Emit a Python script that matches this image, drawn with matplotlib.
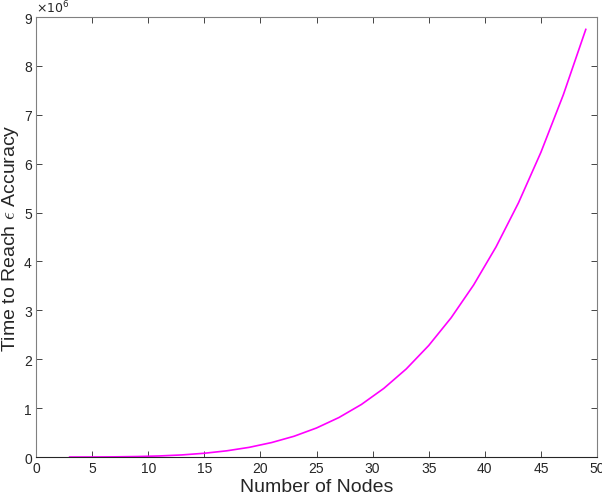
import matplotlib
matplotlib.use('Agg')
import matplotlib.pyplot as plt

# number of nodes vs. time to reach epsilon accuracy
nodes = [3, 5, 7, 9, 11, 13, 15, 17, 19, 21, 23, 25,
         27, 29, 31, 33, 35, 37, 39, 41, 43, 45, 47, 49]
time_eps = [0.0001e6, 0.001e6, 0.0036e6, 0.010e6, 0.022e6, 0.043e6,
            0.077e6, 0.127e6, 0.198e6, 0.296e6, 0.425e6, 0.594e6,
            0.808e6, 1.075e6, 1.404e6, 1.802e6, 2.281e6, 2.849e6,
            3.518e6, 4.298e6, 5.199e6, 6.233e6, 7.411e6, 8.748e6]

plt.rcParams['font.family'] = ['Liberation Sans', 'DejaVu Sans']
plt.rcParams['mathtext.fontset'] = 'cm'

fig = plt.figure(figsize=(6.02, 5.02), dpi=100)
ax = fig.add_axes([0.0598, 0.0876, 0.9319, 0.8764])

ax.plot(nodes, time_eps, color='#ff00ff', lw=1.2)

ax.set_xlim(0, 50)
ax.set_ylim(0, 9e6)
ax.set_xticks(range(0, 51, 5))
ax.set_yticks([i * 1e6 for i in range(10)])
ax.set_yticklabels([str(i) for i in range(10)])

axcol = '#262626'
for s in ax.spines.values():
    s.set_color('#808080')
    s.set_linewidth(0.8)
ax.spines['bottom'].set_color(axcol)
ax.tick_params(direction='in', top=True, right=True, length=4,
               width=0.6, labelsize=10, colors=axcol, pad=3)

ax.set_xlabel('Number of Nodes', fontsize=14, color=axcol, labelpad=2)
ax.set_ylabel(r'Time to Reach $\epsilon$ Accuracy', fontsize=14,
              color=axcol, labelpad=2)
ax.text(0.0, 1.005, r'$\times10^{6}$', transform=ax.transAxes,
        fontsize=9, color=axcol, ha='left', va='bottom',
        math_fontfamily='dejavusans')

fig.savefig('out.png', dpi=100)
